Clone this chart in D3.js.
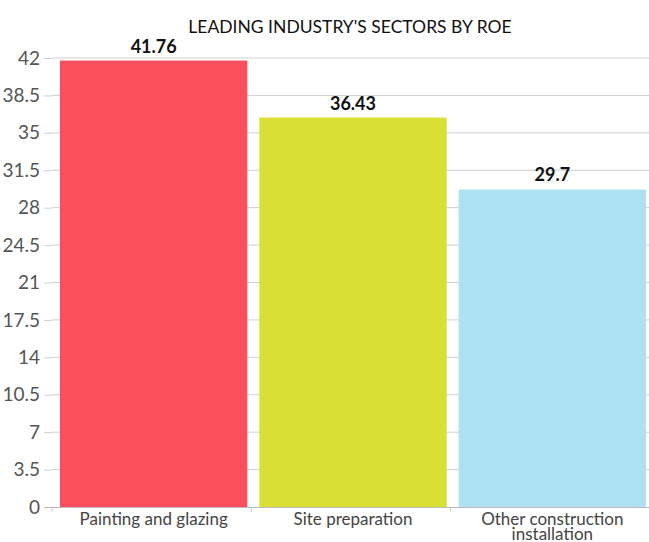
<!DOCTYPE html>
<html>
<head>
<meta charset="utf-8">
<script src="https://cdn.jsdelivr.net/npm/d3@7"></script>
<style>
  body { margin: 0; background: #fff; }
  text { font-family: "Lato", "Open Sans", sans-serif; }
</style>
</head>
<body>
<script>
// chart data
var sectors = ["Painting and glazing", "Site preparation", "Other construction installation"];
var roe = [41.76, 36.43, 29.7];
var barColors = ["#fb4f5e", "#d9e033", "#ade1f3"];
var yTicks = [0, 3.5, 7, 10.5, 14, 17.5, 21, 24.5, 28, 31.5, 35, 38.5, 42];

var width = 649, height = 542;
var svg = d3.select("body").append("svg").attr("width", width).attr("height", height);

var x = d3.scaleBand().domain(sectors).range([54, 652]).paddingInner(0.06).paddingOuter(0.03);
var y = d3.scaleLinear().domain([0, 42]).range([507, 58]);

// gridlines
svg.append("g").selectAll("line")
    .data(yTicks.filter(function (t) { return t > 0; }))
    .enter().append("line")
    .attr("x1", 52).attr("x2", width)
    .attr("y1", function (d) { return y(d); })
    .attr("y2", function (d) { return y(d); })
    .attr("stroke", "#cfcfcf");

// y axis
var yAxis = svg.append("g")
    .attr("transform", "translate(52,0)")
    .call(d3.axisLeft(y).tickValues(yTicks).tickSize(8).tickPadding(4)
        .tickFormat(function (d) { return d; }));
yAxis.select(".domain").remove();
yAxis.selectAll("line").attr("stroke", "#cfcfcf");
yAxis.selectAll("text").attr("fill", "#555").style("font-size", "19px");

// bars
svg.selectAll("rect.bar")
    .data(roe)
    .enter().append("rect")
    .attr("class", "bar")
    .attr("x", function (d, i) { return x(sectors[i]); })
    .attr("width", x.bandwidth())
    .attr("y", function (d) { return y(d); })
    .attr("height", function (d) { return y(0) - y(d); })
    .attr("fill", function (d, i) { return barColors[i]; });

// x axis baseline
var xAxis = svg.append("g")
    .attr("transform", "translate(0," + y(0) + ")")
    .call(d3.axisBottom(x).tickSize(0).tickPadding(0));
xAxis.select(".domain").attr("d", "M44,0.5H" + width).attr("stroke", "#bbb");
xAxis.selectAll(".tick text").remove();

// small tick marks at category boundaries
var step = x.step();
var edges = [0, 1, 2, 3].map(function (i) { return 54 + i * step - 2; });
xAxis.selectAll("line.edge")
    .data(edges)
    .enter().append("line")
    .attr("class", "edge")
    .attr("x1", function (d) { return d; }).attr("x2", function (d) { return d; })
    .attr("y1", 0).attr("y2", 5)
    .attr("stroke", "#ccc");

// category labels (wrap the long one)
var catLines = [["Painting and glazing"], ["Site preparation"], ["Other construction", "installation"]];
svg.selectAll("text.cat")
    .data(sectors)
    .enter().append("text")
    .attr("class", "cat")
    .attr("text-anchor", "middle")
    .attr("fill", "#444")
    .style("font-size", "17px")
    .attr("x", function (d) { return x(d) + x.bandwidth() / 2; })
    .attr("y", 525)
    .each(function (d, i) {
        var t = d3.select(this);
        catLines[i].forEach(function (line, j) {
            t.append("tspan")
                .attr("x", x(d) + x.bandwidth() / 2)
                .attr("dy", j === 0 ? 0 : 15)
                .text(line);
        });
    });

// value labels
svg.selectAll("text.val")
    .data(roe)
    .enter().append("text")
    .attr("class", "val")
    .attr("text-anchor", "middle")
    .style("font-size", "18px")
    .style("font-weight", "bold")
    .attr("fill", "#111")
    .attr("x", function (d, i) { return x(sectors[i]) + x.bandwidth() / 2; })
    .attr("y", function (d) { return y(d) - 8; })
    .text(function (d) { return d; });

// title
svg.append("text")
    .attr("x", 350)
    .attr("y", 33)
    .attr("text-anchor", "middle")
    .style("font-size", "17.5px")
    .attr("fill", "#111")
    .text("LEADING INDUSTRY'S SECTORS BY ROE");
</script>
</body>
</html>
